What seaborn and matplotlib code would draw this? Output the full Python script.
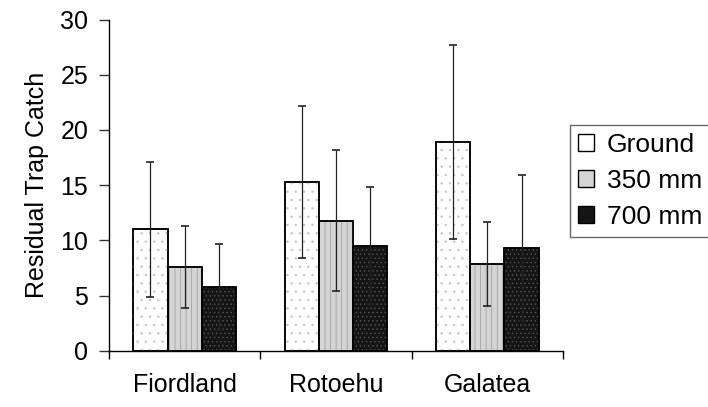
import numpy as np
import pandas as pd
import seaborn as sns
import matplotlib.pyplot as plt
from matplotlib.patches import Patch, Rectangle

sites = ["Fiordland", "Rotoehu", "Galatea"]
heights = ["Ground", "350 mm", "700 mm"]
ground = [11.0, 15.3, 18.9]
mm350 = [7.6, 11.8, 7.9]
mm700 = [5.8, 9.5, 9.3]
ground_err = [6.1, 6.9, 8.8]
mm350_err = [3.7, 6.4, 3.8]
mm700_err = [3.9, 5.3, 6.6]

rows = []
for h, vals in zip(heights, [ground, mm350, mm700]):
    for s, v in zip(sites, vals):
        rows.append({"Site": s, "Height": h, "Catch": v})
df = pd.DataFrame(rows)

sns.set_style("white")
plt.rcParams["font.family"] = ["Liberation Sans", "DejaVu Sans"]
plt.rcParams["hatch.linewidth"] = 0.5
plt.rcParams["text.color"] = "black"
plt.rcParams["axes.labelcolor"] = "black"
plt.rcParams["xtick.color"] = "black"
plt.rcParams["ytick.color"] = "black"

fig = plt.figure(figsize=(7.08, 4.07), dpi=100)
ax = fig.add_axes([0.154, 0.138, 0.641, 0.814])

colors = ["#ffffff", "#d4d4d4", "#151515"]
hatches = ["..", "|||", "...."]
hatch_cols = ["#c4c4c4", "#9a9a9a", "#555555"]
sns.barplot(data=df, x="Site", y="Catch", hue="Height", order=sites,
            hue_order=heights, palette=colors, errorbar=None, width=0.68,
            edgecolor="black", linewidth=1.1, ax=ax, legend=False)

errs = [ground_err, mm350_err, mm700_err]
for cont, err, hat, hc in zip(ax.containers, errs, hatches, hatch_cols):
    for bar, e in zip(cont, err):
        ax.add_patch(Rectangle((bar.get_x(), 0), bar.get_width(), bar.get_height(),
                               facecolor="none", edgecolor=hc, hatch=hat,
                               linewidth=0, zorder=bar.get_zorder() + 0.1))
        ax.add_patch(Rectangle((bar.get_x(), 0), bar.get_width(), bar.get_height(),
                               facecolor="none", edgecolor="black",
                               linewidth=1.1, zorder=bar.get_zorder() + 0.2))
        xc = bar.get_x() + bar.get_width() / 2
        ax.errorbar(xc, bar.get_height(), yerr=e, fmt="none", ecolor="#222222",
                    elinewidth=0.9, capsize=3, capthick=1.2, zorder=5)

ax.set_ylim(0, 30)
ax.set_yticks(range(0, 31, 5))
ax.set_xlim(-0.5, 2.5)
ax.set_xticks(range(3))
ax.set_xticklabels(sites, fontsize=18)
ax.set_xticks([-0.5, 0.5, 1.5, 2.5], minor=True)
ax.tick_params(axis="x", which="major", length=0, pad=16, labelcolor="black")
ax.tick_params(axis="x", which="minor", length=6, width=1, direction="out", color="black", bottom=True)
ax.tick_params(axis="y", length=7, width=1, direction="out", color="#333333", left=True,
               labelsize=18, pad=8, labelcolor="black")
ax.set_xlabel("")
ax.set_ylabel("Residual Trap Catch", fontsize=18, labelpad=8, color="black")
sns.despine(ax=ax)
for sp in ["left", "bottom"]:
    ax.spines[sp].set_color("black")
    ax.spines[sp].set_linewidth(1.0)

handles = [Patch(facecolor=c, edgecolor="black", hatch=None, label=l)
           for c, l in zip(colors, heights)]
leg = fig.legend(handles=handles, loc="upper left", bbox_to_anchor=(0.805, 0.693),
                 borderaxespad=0, fontsize=19, frameon=True, fancybox=False,
                 handlelength=0.6, handleheight=0.6, handletextpad=0.5,
                 borderpad=0.3, labelspacing=0.45, labelcolor="black")
leg.get_frame().set_edgecolor("#444444")
leg.get_frame().set_linewidth(1.0)

fig.savefig("out.png", dpi=100)
